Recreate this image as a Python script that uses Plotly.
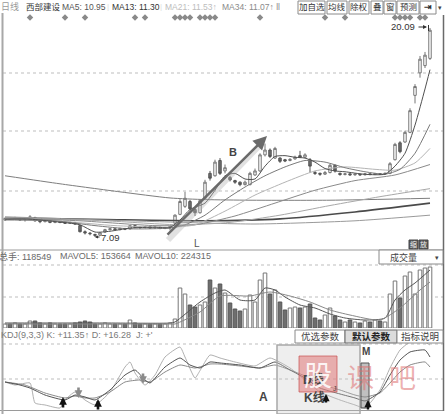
import plotly.graph_objects as go

W, H = 447, 414

# ---------------- daily bars ----------------
opens = [8.15, 8.25, 8.2, 8.25, 8.15, 8.2, 8.3, 8.1, 8.05, 8.1, 8.0, 8.05, 8.0, 7.95, 8.0, 7.8, 7.42, 7.33, 7.25, 7.2,
         7.4, 7.55, 7.6, 7.55, 7.62, 7.6, 7.8, 7.7, 7.68, 7.72, 7.66, 7.7, 7.64, 7.65, 7.95, 8.5, 9.0, 9.3, 8.8, 8.6,
         9.5, 11.05, 10.9, 11.85, 11.2, 10.8, 10.6, 10.5, 10.35, 10.35, 10.95, 11.2, 12.2, 12.5, 12.0, 12.0, 11.9, 11.85, 11.95, 12.15,
         12.05, 11.9, 11.1, 11.05, 11.0, 11.1, 11.55, 11.05, 10.98, 11.02, 10.96, 11.0, 10.96, 11.02, 10.98, 11.03, 11.0, 11.05, 11.9, 12.95,
         13.0, 13.6, 15.9, 17.3, 17.75, 18.2]
closes = [8.25, 8.2, 8.28, 8.15, 8.2, 8.35, 8.1, 8.05, 8.1, 8.0, 8.05, 8.0, 7.95, 8.0, 7.9, 7.42, 7.35, 7.3, 7.2, 7.35,
          7.55, 7.6, 7.55, 7.62, 7.58, 7.8, 7.7, 7.68, 7.72, 7.66, 7.7, 7.64, 7.68, 7.75, 8.45, 9.3, 9.5, 8.85, 8.6, 9.35,
          10.5, 10.75, 11.75, 11.05, 11.4, 10.65, 10.5, 10.35, 10.5, 11.05, 11.2, 12.2, 12.5, 12.1, 12.6, 11.8, 11.82, 11.92, 12.05, 12.05,
          12.2, 11.5, 11.05, 11.0, 11.1, 11.55, 11.2, 10.98, 11.02, 10.96, 11.0, 10.96, 11.02, 10.98, 11.03, 11.0, 11.05, 11.65, 12.85, 12.4,
          13.6, 14.95, 16.45, 18.15, 18.4, 19.95]
highs = [8.3, 8.3, 8.35, 8.3, 8.25, 8.45, 8.35, 8.15, 8.15, 8.12, 8.1, 8.08, 8.05, 8.05, 8.02, 7.85, 7.5, 7.4, 7.3, 7.4,
         7.6, 7.65, 7.65, 7.68, 7.66, 7.85, 7.82, 7.75, 7.76, 7.75, 7.74, 7.72, 7.72, 7.8, 8.5, 9.45, 9.9, 9.4, 8.9, 9.45,
         10.65, 11.2, 11.9, 12.0, 11.6, 10.9, 10.65, 10.55, 10.6, 11.15, 11.35, 12.3, 12.9, 12.6, 12.7, 12.05, 11.95, 12.0, 12.15, 12.45,
         12.3, 12.0, 11.2, 11.1, 11.2, 11.65, 11.6, 11.1, 11.08, 11.05, 11.05, 11.03, 11.06, 11.05, 11.08, 11.06, 11.1, 11.75, 12.95, 13.05,
         13.7, 15.1, 16.6, 18.35, 18.6, 20.09]
lows = [8.1, 8.15, 8.15, 8.1, 8.05, 8.15, 8.05, 7.95, 8.0, 7.95, 7.95, 7.95, 7.9, 7.9, 7.85, 7.38, 7.25, 7.2, 7.09, 7.15,
        7.35, 7.5, 7.5, 7.5, 7.52, 7.55, 7.65, 7.6, 7.62, 7.6, 7.6, 7.58, 7.58, 7.5, 7.9, 8.45, 8.9, 8.75, 8.4, 8.55,
        9.45, 10.6, 10.85, 10.95, 11.05, 10.55, 10.4, 10.25, 10.3, 10.3, 10.9, 11.15, 12.1, 12.0, 11.95, 11.7, 11.75, 11.8, 11.9, 12.0,
        12.0, 11.1, 10.95, 10.9, 10.95, 11.05, 11.1, 10.9, 10.92, 10.9, 10.9, 10.9, 10.92, 10.93, 10.94, 10.95, 10.95, 11.0, 11.85, 12.3,
        12.95, 13.55, 15.4, 17.0, 17.6, 18.1]
volumes = [20000, 20000, 25000, 20000, 20000, 35000, 35000, 25000, 20000, 25000, 20000, 20000, 20000, 20000, 25000, 30000, 35000,
           30000, 20000, 20000, 25000, 20000, 20000, 20000, 20000, 40000, 25000, 20000, 20000, 20000, 20000, 20000, 20000, 25000,
           45000, 200000, 170000, 115000, 105000, 115000, 130000, 240000, 200000, 220000, 175000, 125000, 95000, 85000, 95000,
           165000, 130000, 240000, 275000, 170000, 190000, 130000, 90000, 100000, 105000, 100000, 105000, 120000, 50000, 40000,
           65000, 100000, 60000, 40000, 30000, 40000, 30000, 25000, 35000, 30000, 40000, 35000, 30000, 170000, 235000, 150000,
           260000, 280000, 170000, 290000, 300000, 305000]
bars = list(range(len(closes)))

# ---------------- moving averages (sampled at bar index) ----------------
ma5_idx = [0, 5, 10, 15, 18, 21, 25, 30, 33, 35, 37, 40, 42, 44, 46, 48, 50, 52, 54, 56, 58, 60, 62, 64, 66, 68, 72, 76, 78, 80, 82, 84, 85]
ma5_val = [8.2, 8.2, 8.05, 7.85, 7.4, 7.45, 7.65, 7.7, 7.68, 8.15, 8.8, 9.2, 10.0, 10.9, 11.05, 10.7, 10.7, 11.5, 12.1, 12.15, 12.05,
           12.0, 11.75, 11.35, 11.2, 11.15, 10.99, 11.0, 11.5, 12.3, 14.05, 16.3, 17.5]
ma13_idx = [0, 10, 18, 25, 33, 36, 40, 44, 48, 52, 56, 60, 64, 68, 72, 76, 79, 82, 85]
ma13_val = [8.15, 8.1, 7.8, 7.6, 7.65, 7.85, 8.45, 9.4, 10.2, 10.9, 11.45, 11.85, 11.75, 11.4, 11.15, 11.0, 11.3, 12.3, 14.1]
ma21_idx = [0, 12, 22, 33, 38, 44, 50, 56, 62, 68, 74, 78, 82, 85]
ma21_val = [8.2, 8.05, 7.8, 7.7, 7.85, 8.7, 9.7, 10.5, 11.2, 11.45, 11.3, 11.25, 11.7, 12.6]
ma34_idx = [0, 15, 30, 38, 46, 54, 62, 70, 78, 85]
ma34_val = [8.25, 8.1, 7.8, 7.85, 8.4, 9.2, 10.0, 10.6, 10.95, 11.6]
ma55_idx = [0, 20, 35, 45, 55, 65, 75, 85]
ma55_val = [8.3, 8.1, 7.85, 8.0, 8.45, 9.05, 9.6, 10.1]
ma89_idx = [0, 30, 50, 70, 85]
ma89_val = [8.35, 8.05, 7.9, 8.1, 8.45]
ma120_idx = [0, 20, 40, 55, 70, 85]
ma120_val = [8.28, 8.18, 8.1, 8.22, 8.65, 9.2]
ma250_idx = [0, 11, 23, 33, 40, 49, 65, 85]
ma250_val = [10.9, 10.4, 9.9, 9.52, 9.42, 9.38, 9.38, 9.5]

# ---------------- volume averages ----------------
mavol5_idx = [0, 20, 33, 34, 39, 42, 44, 47, 50, 52, 54, 56, 59, 62, 65, 68, 72, 76, 78, 80, 82, 85]
mavol5_val = [25000, 25000, 25000, 30000, 130000, 175000, 190000, 140000, 140000, 200000, 190000, 155000, 115000, 100000,
              70000, 50000, 40000, 50000, 140000, 190000, 225000, 290000]
mavol10_idx = [0, 20, 33, 34, 39, 43, 49, 53, 57, 61, 65, 69, 75, 79, 83, 85]
mavol10_val = [20000, 20000, 20000, 20000, 80000, 160000, 160000, 180000, 160000, 130000, 90000, 65000, 40000, 100000,
               190000, 230000]

# ---------------- KDJ(9,3,3) ----------------
k_idx = [0, 3, 5, 8, 12, 14, 16, 18, 21, 24, 26, 28, 29, 32, 35, 37, 39, 41, 43, 47, 51, 54, 57, 60, 63, 67, 70, 72, 75, 77, 79, 81, 84, 85]
k_val = [45.7, 41.4, 37.1, 27.1, 20, 27.1, 24.3, 20, 34.3, 55.7, 62.9, 48.6, 44.3, 67.1, 80, 70, 65.7, 74.3, 72.9, 70, 65.7,
         74.3, 62.9, 51.4, 37.1, 28.6, 22.9, 18.6, 31.4, 55.7, 77.1, 88.6, 91.4, 81.4]
d_idx = [0, 4, 8, 12, 14, 16, 18, 21, 24, 27, 29, 32, 35, 38, 41, 43, 47, 51, 54, 57, 60, 63, 67, 70, 72, 75, 77, 79, 81, 84, 85]
d_val = [45.7, 41.4, 30, 22.9, 25.7, 22.9, 22.9, 31.4, 45.7, 48.6, 45.7, 60, 70, 65.7, 71.4, 71.4, 68.6, 65.7, 70, 62.9,
         54.3, 42.9, 34.3, 27.1, 24.3, 30, 44.3, 60, 70, 74.3, 67.1]
j_idx = [0, 2, 5, 6, 8, 11, 12, 14, 16, 18, 21, 24, 25, 26, 28, 30, 32, 35, 36, 38, 39, 41, 43, 46, 50, 53, 57, 60, 63, 67,
         70, 72, 75, 77, 79, 81, 83, 85]
j_val = [45.7, 41.4, 44.3, 15.7, 12.9, 8.6, 20, 31.4, 20, 12.9, 31.4, 67.1, 74.3, 58.6, 41.4, 55.7, 81.4, 95.7, 81.4, 51.4,
         62, 84.3, 80, 74.3, 68.6, 80, 65.7, 48.6, 31.4, 20, 12.9, 8.6, 34.3, 65.7, 91.4, 102.9, 105.7, 98.6]

# bars carrying an event flag in the header strip
event_bars = [5, 12, 16, 26, 28, 34, 35, 36, 37, 39, 40, 41, 42, 51, 64, 68, 78, 79, 80, 81, 83, 84]


def px(x):
    return x / W


def py(y):
    return 1 - y / H


CJK = "Liberation Sans, Noto Sans CJK SC, sans-serif"
fig = go.Figure()

up = [c >= o for o, c in zip(opens, closes)]

# --- moving averages under the candles ---
ma_styles = [
    (ma250_idx, ma250_val, "#7e7e7e", 1.0),
    (ma120_idx, ma120_val, "#4a4a4a", 1.6),
    (ma89_idx, ma89_val, "#9a9a9a", 1.0),
    (ma55_idx, ma55_val, "#a8a8a8", 1.0),
    (ma34_idx, ma34_val, "#8a8a8a", 1.0),
    (ma21_idx, ma21_val, "#b4b4b4", 1.0),
    (ma13_idx, ma13_val, "#7a7a7a", 1.0),
    (ma5_idx, ma5_val, "#505050", 1.0),
]
for ix, val, col, w in ma_styles:
    fig.add_trace(go.Scatter(x=ix, y=val, mode="lines", line=dict(color=col, width=w, shape="spline", smoothing=0.6),
                             xaxis="x", yaxis="y", showlegend=False, hoverinfo="skip"))

# --- price panel ---
fig.add_trace(go.Candlestick(
    x=bars, open=opens, high=highs, low=lows, close=closes,
    increasing=dict(line=dict(color="#777", width=1), fillcolor="#ffffff"),
    decreasing=dict(line=dict(color="#555", width=1), fillcolor="#6e6e6e"),
    whiskerwidth=0, xaxis="x", yaxis="y", showlegend=False, hoverinfo="skip"))

fig.add_trace(go.Scatter(x=event_bars, y=[20.74] * len(event_bars), mode="markers",
                         marker=dict(symbol="diamond", size=5, color="#8a8a8a"),
                         xaxis="x", yaxis="y", showlegend=False, hoverinfo="skip", cliponaxis=False))

# --- volume panel ---
fig.add_trace(go.Bar(
    x=bars, y=volumes, width=0.72,
    marker=dict(color=["#ffffff" if u else "#6e6e6e" for u in up],
                line=dict(color=["#777" if u else "#555" for u in up], width=1)),
    xaxis="x", yaxis="y2", showlegend=False, hoverinfo="skip"))
fig.add_trace(go.Scatter(x=mavol5_idx, y=mavol5_val, mode="lines",
                         line=dict(color="#555", width=1, shape="spline", smoothing=0.6),
                         xaxis="x", yaxis="y2", showlegend=False, hoverinfo="skip"))
fig.add_trace(go.Scatter(x=mavol10_idx, y=mavol10_val, mode="lines",
                         line=dict(color="#888", width=1, shape="spline", smoothing=0.6),
                         xaxis="x", yaxis="y2", showlegend=False, hoverinfo="skip"))

# --- KDJ panel ---
for ix, val, col in [(j_idx, j_val, "#b0b0b0"), (d_idx, d_val, "#8a8a8a"), (k_idx, k_val, "#555555")]:
    fig.add_trace(go.Scatter(x=ix, y=val, mode="lines", line=dict(color=col, width=1, shape="spline", smoothing=0.5),
                             xaxis="x", yaxis="y3", showlegend=False, hoverinfo="skip"))

shapes = []


def hline(y, x0=3, x1=443, color="#bdbdbd", dash="dot", width=1):
    shapes.append(dict(type="line", xref="paper", yref="paper", x0=px(x0), x1=px(x1), y0=py(y), y1=py(y),
                       line=dict(color=color, width=width, dash=dash), layer="below"))


def rect(x0, y0, x1, y1, fill, line="#888", lw=1, layer="above"):
    shapes.append(dict(type="rect", xref="paper", yref="paper", x0=px(x0), x1=px(x1), y0=py(y0), y1=py(y1),
                       fillcolor=fill, line=dict(color=line, width=lw), layer=layer))


# grid lines
for gy in (73, 131, 191):
    hline(gy)
for gy in (265, 297):
    hline(gy)
for gy in (344, 379):
    hline(gy)

# frame
shapes.append(dict(type="line", xref="paper", yref="paper", x0=px(2.5), x1=px(2.5), y0=py(13), y1=py(414),
                   line=dict(color="#a8a8a8", width=2)))
shapes.append(dict(type="line", xref="paper", yref="paper", x0=px(443.5), x1=px(443.5), y0=py(15), y1=py(411),
                   line=dict(color="#6a6a6a", width=1.5)))
hline(250, 0, 444, "#9a9a9a", "solid", 1)
hline(410.5, 0, 444, "#9a9a9a", "solid", 1)

# trend arrow shadow
shapes.append(dict(type="line", xref="paper", yref="paper", x0=px(168), y0=py(240), x1=px(262), y1=py(143),
                   line=dict(color="rgba(180,180,180,0.4)", width=6)))

annotations = []


def txt(x, y, s, size=10, color="#333", anchor="left", bold=False, family=CJK):
    annotations.append(dict(x=px(x), y=py(y), xref="paper", yref="paper", text=(f"<b>{s}</b>" if bold else s),
                            showarrow=False, xanchor=anchor, yanchor="middle",
                            font=dict(size=size, color=color, family=family)))


def arrow(hx, hy, tx, ty, color="#222", width=2.0, head=2, size=1.0):
    annotations.append(dict(x=px(hx), y=py(hy), xref="paper", yref="paper", ax=tx - hx, ay=ty - hy,
                            axref="pixel", ayref="pixel", text="", showarrow=True, arrowhead=head,
                            arrowsize=size, arrowwidth=width, arrowcolor=color))


# header line
txt(-1, 7, "日线", 9, "#9a9a9a")
txt(24, 7, "西部建设", 8.5, "#333")
txt(60, 7, "MA5: 10.95", 8.5, "#555")
txt(105, 7, "|", 8, "#dddddd")
txt(110, 7, "MA13: 11.30", 8.5, "#333")
txt(158, 7, "|", 8, "#dddddd")
txt(163, 7, "MA21: 11.53↑", 8.5, "#bdbdbd")
txt(220, 7, "MA34: 11.07↑ ll", 8.5, "#8a8a8a")

buttons = [("加自选", 298, 325), ("均线", 327, 347), ("除权", 349, 369), ("叠", 371, 383), ("窗", 384, 396),
           ("预测", 397, 419), ("⇥", 420, 436)]
for label, bx0, bx1 in buttons:
    rect(bx0, 1, bx1, 14, "#ffffff", "#8a8a8a", 1)
    txt((bx0 + bx1) / 2, 7.5, label, 8.5, "#333", "center", bold=(label == "⇥"))
txt(440, 7.5, "▾", 7, "#444", "center")

# price panel labels
arrow(267, 136, 166, 236, "#6a6a6a", 2.5, 2, 1.1)
txt(233, 152, "B", 11, "#444", "center", bold=True)
txt(197, 243, "L", 10, "#555", "center")
txt(403, 27, "20.09", 9.5, "#333", "center")
arrow(427, 27, 417, 27, "#333", 1, 2, 0.8)
shapes.append(dict(type="line", xref="paper", yref="paper", x0=px(428.5), x1=px(428.5), y0=py(25), y1=py(31),
                   line=dict(color="#333", width=1)))
txt(110, 237, "7.09", 9.5, "#333", "center")
arrow(95, 237, 101, 237, "#333", 1, 2, 0.6)

# indicator icons
rect(409, 240, 418, 249, "#5a5a5a", "#444", 1)
rect(419, 240, 428, 249, "#5a5a5a", "#444", 1)
txt(413.5, 244.5, "缩", 7, "#eeeeee", "center")
txt(423.5, 244.5, "放", 7, "#eeeeee", "center")

# volume panel header
txt(-3, 256, "总手: 118549", 9, "#6a6a6a")
txt(58, 256, "MAVOL5: 153664", 9, "#6a6a6a")
txt(133, 256, "MAVOL10: 224315", 9, "#6a6a6a")
rect(379, 250, 443, 264, "#ffffff", "#8a8a8a", 1)
txt(403, 257, "成交量", 9, "#444", "center")
txt(437, 257, "▾", 7, "#444", "center")

# KDJ header and buttons
txt(-1, 335, "KDJ(9,3,3) K: +11.35↑ D: +16.28  J: +'", 9, "#7a7a7a")
rect(295, 330, 345, 343, "#ffffff", "#8a8a8a", 1)
rect(345, 330, 397, 343, "#dcdcdc", "#6a6a6a", 1)
rect(397, 330, 443, 343, "#ffffff", "#8a8a8a", 1)
txt(320, 336.5, "优选参数", 9.5, "#444", "center")
txt(371, 336.5, "默认参数", 9.5, "#222", "center", bold=True)
txt(420, 336.5, "指标说明", 9.5, "#444", "center")

# KDJ markers
arrow(78.5, 398, 78.5, 386, "#8a8a8a", 2.6, 2, 0.6)
arrow(143, 384, 143, 372, "#8a8a8a", 2.6, 2, 0.6)
arrow(63, 397, 63, 409, "#111", 2.6, 2, 0.6)
arrow(98, 399, 98, 411, "#111", 2.6, 2, 0.6)

# highlight box and M bar
rect(277, 345, 360, 414, "rgba(200,200,200,0.30)", "#a8a8a8", 1.5)
rect(361, 363, 369, 408, "rgba(140,140,140,0.55)", "#555", 1)
arrow(326, 394, 326, 404, "#111", 2.4, 2, 0.6)
arrow(368, 400, 368, 411, "#111", 2.4, 2, 0.6)
txt(313, 379, "D线", 12, "#444", "center", bold=True)
txt(314, 397, "K线", 12, "#444", "center", bold=True)
txt(335, 388, "J", 7, "#444", "center")
txt(365.5, 351, "M", 10, "#444", "center", bold=True)
txt(263, 397, "A", 12, "#444", "center", bold=True)

# watermark
rect(299, 356, 337, 392, "rgba(226,120,120,0.55)", "rgba(200,80,80,0.7)", 1)
txt(318, 374, "股", 28, "rgba(255,255,255,0.9)", "center", family="Noto Sans CJK SC")
txt(360, 376, "课", 27, "rgba(222,110,110,0.55)", "center", family="Noto Sans CJK SC")
txt(402, 376, "吧", 27, "rgba(222,110,110,0.55)", "center", family="Noto Sans CJK SC")

axis_off = dict(showgrid=False, zeroline=False, showticklabels=False, ticks="", showline=False)
fig.update_layout(
    width=W, height=H, autosize=False,
    margin=dict(l=0, r=0, t=0, b=0, pad=0),
    paper_bgcolor="#ffffff", plot_bgcolor="rgba(0,0,0,0)",
    showlegend=False, hovermode=False,
    xaxis=dict(domain=[px(3), px(443)], range=[-0.4, 87.6], rangeslider=dict(visible=False), **axis_off),
    yaxis=dict(domain=[py(250), py(15)], range=[6.284, 20.898], anchor="x", **axis_off),
    yaxis2=dict(domain=[py(328), py(258)], range=[0, 350000], anchor="x", **axis_off),
    yaxis3=dict(domain=[py(411), py(337)], range=[4.29, 110], anchor="x", **axis_off),
    shapes=shapes, annotations=annotations,
)

fig.write_html("out.html")
